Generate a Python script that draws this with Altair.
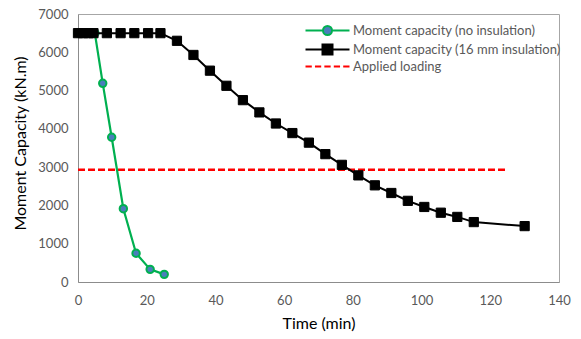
import altair as alt
import pandas as pd

names = ["Moment capacity (no insulation)", "Moment capacity (16 mm insulation)", "Applied loading"]

green_time = [0, 4.9, 7.2, 9.8, 13.2, 16.9, 21.0, 25.1]
green_val = [6500, 6500, 5190, 3780, 1915, 750, 330, 200]

black_time = [0, 1.5, 3, 4.5, 8.4, 12.4, 16.4, 20.4, 24, 28.8, 33.6, 38.4, 43.2, 48,
              52.8, 57.6, 62.4, 67.2, 72, 76.8, 81.6, 86.4, 91.2, 96, 100.8, 105.6,
              110.4, 115.2, 130]
black_val = [6500, 6500, 6500, 6500, 6500, 6500, 6500, 6500, 6500, 6300, 5930, 5520,
             5125, 4750, 4430, 4140, 3890, 3640, 3340, 3060, 2785, 2525, 2325, 2120,
             1960, 1810, 1700, 1565, 1460]

load_time = [0, 125]
load_val = [2930, 2930]

x_ticks = [0, 20, 40, 60, 80, 100, 120, 140]
y_ticks = [0, 1000, 2000, 3000, 4000, 5000, 6000, 7000]

rows = []
for t, v in zip(green_time, green_val):
    rows.append({"series": names[0], "time": t, "value": v})
for t, v in zip(black_time, black_val):
    rows.append({"series": names[1], "time": t, "value": v})
for t, v in zip(load_time, load_val):
    rows.append({"series": names[2], "time": t, "value": v})
df = pd.DataFrame(rows)

FONT = "Lato"
GREEN = "#00B050"
BLUE = "#4A7EBB"
RED = "#FF0000"

xs = alt.Scale(domain=[0, 140], nice=False, zero=False)
ys = alt.Scale(domain=[0, 7000], nice=False)

x_enc = alt.X("time:Q", scale=xs, title="Time (min)",
              axis=alt.Axis(values=x_ticks, grid=False, ticks=False, tickSize=0,
                            labelFlush=False, labelOverlap=False,
                            labelPadding=12, labelFontSize=13, labelColor="#595959",
                            labelFont=FONT, titleFont=FONT, titleFontSize=16,
                            titleFontWeight="normal", titleColor="#000000",
                            titlePadding=8, domainColor="#8C8C8C"))
y_enc = alt.Y("value:Q", scale=ys, title="Moment Capacity (kN.m)",
              axis=alt.Axis(values=y_ticks, grid=False, ticks=False, tickSize=0,
                            format="d", labelFlush=False, labelOverlap=False,
                            labelPadding=10, labelFontSize=13, labelColor="#595959",
                            labelFont=FONT, titleFont=FONT, titleFontSize=16,
                            titleFontWeight="normal", titleColor="#000000",
                            titlePadding=9, titleY=129, domainColor="#8C8C8C"))

base = alt.Chart(df)

green_line = base.transform_filter(alt.datum.series == names[0]).mark_line(
    color=GREEN, strokeWidth=2.2).encode(x=x_enc, y=y_enc)
black_line = base.transform_filter(alt.datum.series == names[1]).mark_line(
    color="#000000", strokeWidth=2).encode(x=x_enc, y=y_enc)
red_line = base.transform_filter(alt.datum.series == names[2]).mark_line(
    color=RED, strokeWidth=2.5, strokeDash=[7, 3]).encode(x=x_enc, y=y_enc)

green_pts = base.transform_filter(alt.datum.series == names[0]).mark_point(
    shape="circle", filled=True, fill=BLUE, stroke=GREEN, strokeWidth=2,
    size=55, opacity=1).encode(x=x_enc, y=y_enc)
black_pts = base.transform_filter(alt.datum.series == names[1]).mark_point(
    shape="square", filled=True, fill="#000000", stroke="#000000", strokeWidth=1,
    size=85, opacity=1).encode(x=x_enc, y=y_enc)

# legend glyphs: unit box is 10 px (symbolSize 100), so 1 unit = 5 px
p_green = "M-4.4,0L-0.9,0M0.9,0L4.4,0M0.9,0A0.9,0.9,0,1,1,-0.9,0A0.9,0.9,0,1,1,0.9,0Z"
p_black = "M-4.4,0L-1,0M1,0L4.4,0M-1,-1L1,-1L1,1L-1,1Z"
p_red = ("M-4.4,0L-3.14,0M-2.51,0L-1.26,0M-0.63,0L0.63,0"
         "M1.26,0L2.51,0M3.14,0L4.4,0")

def leg():
    return alt.Legend(title=None, orient="none", legendX=243, legendY=10,
                      symbolSize=100, symbolStrokeWidth=2, symbolOpacity=1,
                      labelFontSize=13, labelColor="#595959", labelFont=FONT,
                      labelLimit=0, labelOffset=19, padding=0, rowPadding=1)

legend_layer = base.mark_point(opacity=0, size=0).encode(
    x=x_enc, y=y_enc,
    shape=alt.Shape("series:N", scale=alt.Scale(domain=names, range=[p_green, p_black, p_red]), legend=leg()),
    fill=alt.Fill("series:N", scale=alt.Scale(domain=names, range=[BLUE, "#000000", "transparent"]), legend=leg()),
    stroke=alt.Stroke("series:N", scale=alt.Scale(domain=names, range=[GREEN, "#000000", RED]), legend=leg()),
)

chart = alt.layer(red_line, green_line, green_pts, black_line, black_pts, legend_layer).properties(
    width=481, height=268,
    autosize=alt.AutoSizeParams(type="none"),
    padding={"left": 78, "top": 14, "right": 22, "bottom": 57},
    background="#FFFFFF",
).configure_view(stroke="#A6A6A6", strokeWidth=1)

chart.save("out.html", embed_options={"renderer": "svg", "actions": False})
